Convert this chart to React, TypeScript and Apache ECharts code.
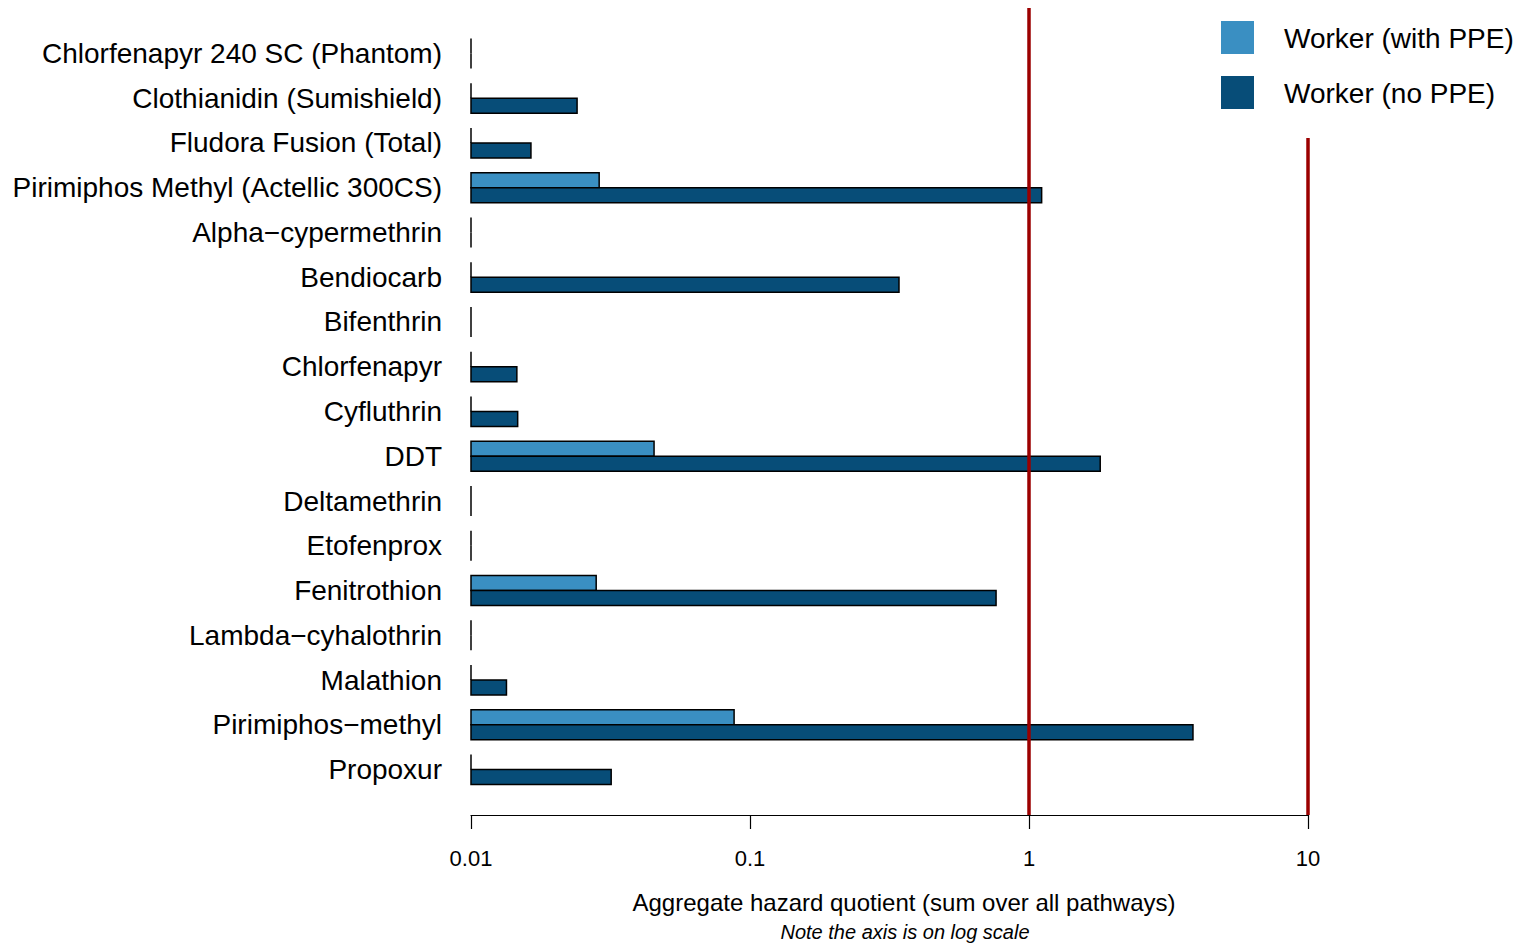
import React, { useEffect, useRef } from "react";
import * as echarts from "echarts";

// Insecticide products, top to bottom
const CATEGORIES: string[] = [
  "Chlorfenapyr 240 SC (Phantom)",
  "Clothianidin (Sumishield)",
  "Fludora Fusion (Total)",
  "Pirimiphos Methyl (Actellic 300CS)",
  "Alpha\u2212cypermethrin",
  "Bendiocarb",
  "Bifenthrin",
  "Chlorfenapyr",
  "Cyfluthrin",
  "DDT",
  "Deltamethrin",
  "Etofenprox",
  "Fenitrothion",
  "Lambda\u2212cyhalothrin",
  "Malathion",
  "Pirimiphos\u2212methyl",
  "Propoxur",
];

// Aggregate hazard quotients (0 = below the plotted range)
const WITH_PPE: number[] = [
  0, 0, 0, 0.0288, 0, 0, 0, 0, 0, 0.0453, 0, 0, 0.0281, 0, 0, 0.0877, 0,
];
const NO_PPE: number[] = [
  0, 0.024, 0.0164, 1.11, 0, 0.342, 0, 0.0146, 0.0147, 1.8, 0, 0, 0.762, 0, 0.0134, 3.87, 0.0318,
];

const THRESHOLDS: number[] = [1, 10];
const TICK_VALUES: number[] = [0.01, 0.1, 1, 10];
const TICK_LABELS: string[] = ["0.01", "0.1", "1", "10"];

const SERIES_NAMES = ["Worker (with PPE)", "Worker (no PPE)"];
const COLOR_PPE = "#3a8fc2";
const COLOR_NO_PPE = "#074d78";
const AXIS_MIN = 0.01;
const AXIS_MAX = 10;
const FONT = "'Liberation Sans', Arial, Helvetica, sans-serif";

function makeRenderItem(upper: boolean, color: string) {
  return (params: any, api: any) => {
    const raw = api.value(0);
    const cat = api.value(1);
    const v = isNaN(raw) || raw <= AXIS_MIN ? AXIS_MIN : raw;
    const start = api.coord([AXIS_MIN, cat]);
    const end = api.coord([v, cat]);
    const h = api.size([0, 1])[1] * 0.335;
    const y = upper ? start[1] - h : start[1];
    const w = end[0] - start[0];
    if (w <= 0.5) {
      return {
        type: "line",
        shape: { x1: start[0], y1: y, x2: start[0], y2: y + h },
        style: { stroke: "#000", lineWidth: 1.5 },
      };
    }
    return {
      type: "rect",
      shape: { x: start[0], y, width: w, height: h },
      style: { fill: color, stroke: "#000", lineWidth: 1.5 },
    };
  };
}

export default function App() {
  const ref = useRef<HTMLDivElement>(null);

  useEffect(() => {
    if (!ref.current) return;
    const chart = echarts.init(ref.current, null, { renderer: "svg" });

    const option: any = {
      animation: false,
      backgroundColor: "#ffffff",
      textStyle: { fontFamily: FONT },
      grid: { left: 471, right: 214, top: 31, bottom: 153, containLabel: false },
      xAxis: {
        type: "log",
        logBase: 10,
        min: AXIS_MIN,
        max: AXIS_MAX,
        position: "bottom",
        offset: 23,
        axisLine: { show: true, lineStyle: { color: "#000", width: 1.2 } },
        axisTick: { show: true, length: 14, lineStyle: { color: "#000", width: 1.2 } },
        minorTick: { show: false },
        splitLine: { show: false },
        axisLabel: {
          color: "#000",
          fontSize: 22,
          fontFamily: FONT,
          margin: 32,
          formatter: (v: number) => {
            const i = TICK_VALUES.findIndex(
              (t) => Math.abs(Math.log10(t) - Math.log10(v)) < 1e-6
            );
            return i >= 0 ? TICK_LABELS[i] : "";
          },
        },
      },
      yAxis: {
        type: "category",
        data: CATEGORIES,
        inverse: true,
        axisLine: { show: false },
        axisTick: { show: false },
        splitLine: { show: false },
        axisLabel: {
          color: "#000",
          fontSize: 28,
          fontFamily: FONT,
          margin: 29,
          interval: 0,
        },
      },
      series: [
        {
          name: SERIES_NAMES[0],
          type: "custom",
          renderItem: makeRenderItem(true, COLOR_PPE),
          encode: { x: 0, y: 1 },
          data: WITH_PPE.map((v, i) => [v, i]),
          itemStyle: { color: COLOR_PPE },
          z: 2,
        },
        {
          name: SERIES_NAMES[1],
          type: "custom",
          renderItem: makeRenderItem(false, COLOR_NO_PPE),
          encode: { x: 0, y: 1 },
          data: NO_PPE.map((v, i) => [v, i]),
          itemStyle: { color: COLOR_NO_PPE },
          z: 2,
          markLine: {
            silent: true,
            symbol: ["none", "none"],
            label: { show: false },
            lineStyle: { color: "#9b0000", width: 3.5, type: "solid" },
            z: 10,
            data: [
              [
                { xAxis: THRESHOLDS[0], y: 8 },
                { xAxis: THRESHOLDS[0], y: 815 },
              ],
              [
                { xAxis: THRESHOLDS[1], y: 138 },
                { xAxis: THRESHOLDS[1], y: 815 },
              ],
            ],
          },
        },
      ],
      graphic: [
        {
          type: "rect",
          shape: { x: 1221, y: 21, width: 33, height: 33 },
          style: { fill: COLOR_PPE },
        },
        {
          type: "rect",
          shape: { x: 1221, y: 76, width: 33, height: 33 },
          style: { fill: COLOR_NO_PPE },
        },
        {
          type: "text",
          x: 1284,
          y: 38,
          style: {
            text: SERIES_NAMES[0],
            font: `28px ${FONT}`,
            fill: "#000",
            verticalAlign: "middle",
          },
        },
        {
          type: "text",
          x: 1284,
          y: 93,
          style: {
            text: SERIES_NAMES[1],
            font: `28px ${FONT}`,
            fill: "#000",
            verticalAlign: "middle",
          },
        },
        {
          type: "text",
          x: 904,
          y: 902,
          style: {
            text: "Aggregate hazard quotient (sum over all pathways)",
            font: `24px ${FONT}`,
            fill: "#000",
            align: "center",
            verticalAlign: "middle",
          },
        },
        {
          type: "text",
          x: 905,
          y: 932,
          style: {
            text: "Note the axis is on log scale",
            font: `italic 20px ${FONT}`,
            fill: "#000",
            align: "center",
            verticalAlign: "middle",
          },
        },
      ],
    };

    chart.setOption(option);
    return () => chart.dispose();
  }, []);

  return (
    <div
      ref={ref}
      style={{ position: "fixed", left: 0, top: 0, width: 1522, height: 945 }}
    />
  );
}
